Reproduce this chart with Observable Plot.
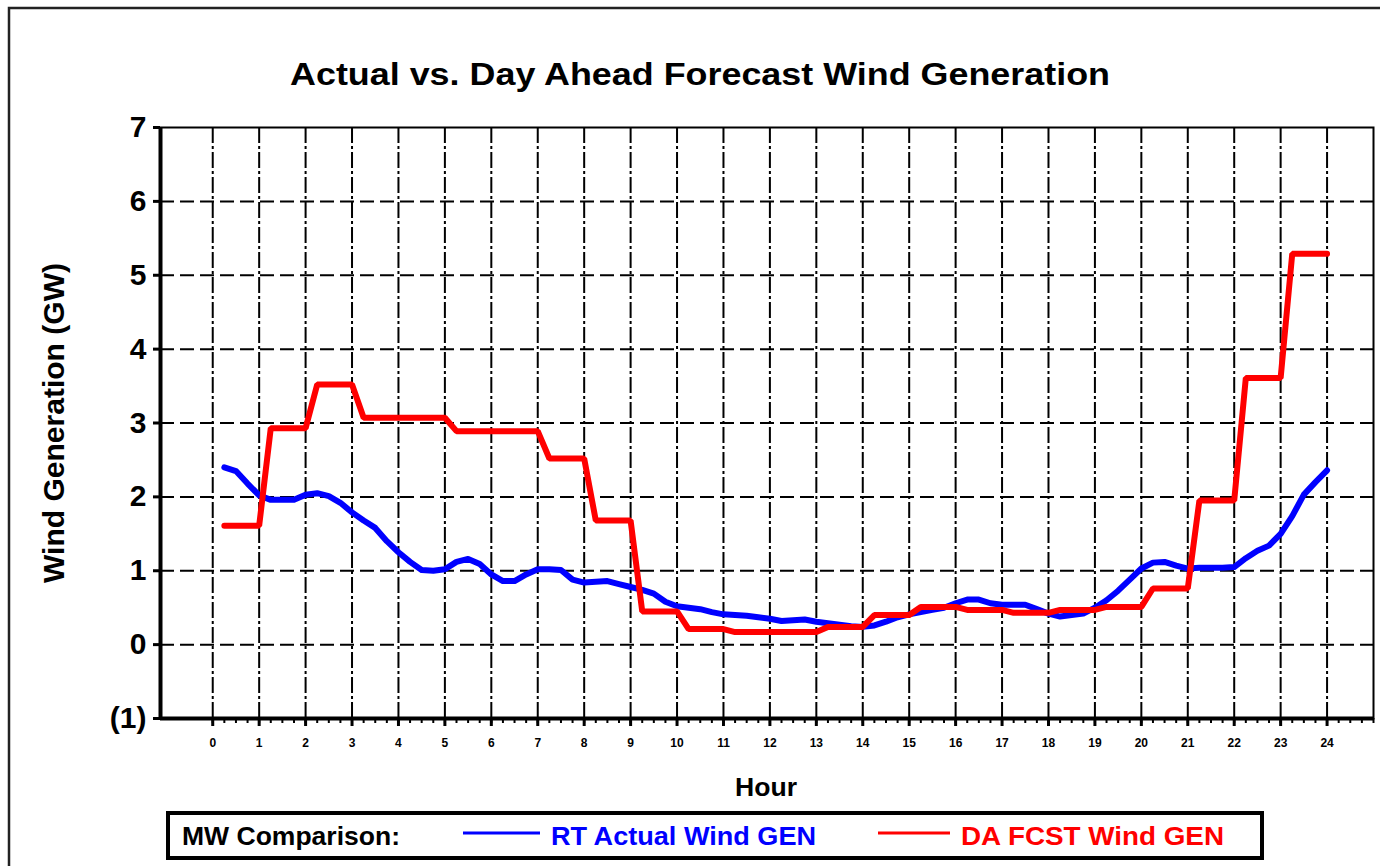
<!DOCTYPE html>
<html>
<head>
<meta charset="utf-8">
<script src="https://cdn.jsdelivr.net/npm/d3@7"></script>
<script src="https://cdn.jsdelivr.net/npm/@observablehq/plot@0.6"></script>
<style>
  html, body { margin: 0; padding: 0; background: #ffffff; }
  #chart svg { display: block; }
</style>
</head>
<body>
<div id="chart"></div>
<script>
// ---------- data ----------
const titleText = "Actual vs. Day Ahead Forecast Wind Generation";
const yLabelText = "Wind Generation (GW)";
const xLabelText = "Hour";
const legendTitle = "MW Comparison:";
const seriesNames = ["RT Actual Wind GEN", "DA FCST Wind GEN"];
const seriesColors = ["#0000ff", "#ff0000"];

const hourTicks = [0,1,2,3,4,5,6,7,8,9,10,11,12,13,14,15,16,17,18,19,20,21,22,23,24];
const yTicks = [-1, 0, 1, 2, 3, 4, 5, 6, 7];
const yTickLabels = ["(1)", "0", "1", "2", "3", "4", "5", "6", "7"];
const yGridValues = [0, 1, 2, 3, 4, 5, 6];

// RT actual wind generation (GW), quarter-hour readings from 00:15 to 24:00
const rtActualGW = [
  2.40, 2.35, 2.18, 2.02,  1.96, 1.96, 1.96, 2.03,  2.05, 2.01, 1.92, 1.79,
  1.68, 1.58, 1.40, 1.25,  1.12, 1.01, 1.00, 1.02,  1.12, 1.16, 1.09, 0.95,
  0.86, 0.86, 0.95, 1.02,  1.02, 1.01, 0.88, 0.84,  0.85, 0.86, 0.82, 0.78,
  0.74, 0.69, 0.58, 0.52,  0.50, 0.48, 0.44, 0.41,  0.40, 0.39, 0.37, 0.35,
  0.32, 0.33, 0.34, 0.31,  0.29, 0.27, 0.25, 0.24,  0.26, 0.31, 0.37, 0.41,
  0.44, 0.47, 0.50, 0.56,  0.61, 0.61, 0.56, 0.54,  0.54, 0.54, 0.48, 0.42,
  0.38, 0.40, 0.42, 0.50,  0.60, 0.73, 0.88, 1.03,  1.11, 1.12, 1.07, 1.03,
  1.04, 1.04, 1.04, 1.05,  1.17, 1.27, 1.34, 1.50,  1.74, 2.03, 2.20, 2.36
];

// DA forecast wind generation (GW), one value per hour ending 1..24
const daFcstGW = [
  1.61, 2.93, 3.52, 3.07, 3.07, 2.89, 2.89, 2.52, 1.68, 0.45, 0.21, 0.17,
  0.17, 0.24, 0.40, 0.51, 0.47, 0.43, 0.47, 0.51, 0.76, 1.95, 3.61, 5.29
];

const quarterTicks = d3.range(0, 25.01, 0.25);
const xDomain = [-1.125, 25];
const yDomain = [-1, 7];

// ---------- tables ----------
const actualData = rtActualGW.map((gw, i) => ({hour: (i + 1) / 4, gw}));
const fcstData = [];
daFcstGW.forEach((gw, h) => {
  [1, 2, 3, 4].forEach(q => fcstData.push({hour: h + q / 4, gw}));
});

// ---------- chart ----------
const W = 1380, H = 866;
const FONT = "'Liberation Sans', Arial, Helvetica, sans-serif";

const chart = Plot.plot({
  width: W,
  height: H,
  marginLeft: 160,
  marginRight: 7,
  marginTop: 127,
  marginBottom: 148,
  style: {fontFamily: FONT, background: "#ffffff", color: "#000000", overflow: "hidden"},
  x: {domain: xDomain},
  y: {domain: yDomain},
  marks: [
    Plot.ruleY(yGridValues, {stroke: "#000", strokeWidth: 2, strokeDasharray: "14,6"}),
    Plot.ruleX(hourTicks, {stroke: "#000", strokeWidth: 2, strokeDasharray: "16,3,3,3"}),
    Plot.line(actualData, {x: "hour", y: "gw", stroke: seriesColors[0], strokeWidth: 6, strokeLinejoin: "round"}),
    Plot.line(fcstData, {x: "hour", y: "gw", stroke: seriesColors[1], strokeWidth: 6, strokeLinejoin: "miter"}),
    Plot.frame({stroke: "#000", strokeWidth: 2}),
    Plot.ruleX([xDomain[0]], {stroke: "#000", strokeWidth: 4}),
    Plot.ruleY([yDomain[0]], {stroke: "#000", strokeWidth: 4}),
    Plot.axisY(yTicks, {
      tickFormat: d => yTickLabels[yTicks.indexOf(d)],
      tickSize: 7, tickPadding: 7, strokeWidth: 3,
      fontSize: 30, fontWeight: "bold", label: null
    }),
    Plot.axisX(quarterTicks, {
      tickFormat: () => "", tickSize: 5, strokeWidth: 2, label: null
    }),
    Plot.axisX(hourTicks, {
      tickFormat: d => String(d),
      tickSize: 8, tickPadding: 12, strokeWidth: 3,
      fontSize: 12, fontWeight: "bold", label: null
    })
  ]
});

document.getElementById("chart").appendChild(chart);

// ---------- annotations (title, axis titles, legend, outer frame) ----------
const svg = d3.select(chart);

svg.append("rect")
  .attr("x", 9).attr("y", 8).attr("width", W + 20).attr("height", H + 20)
  .attr("fill", "none").attr("stroke", "#222").attr("stroke-width", 2.5);

svg.append("text")
  .attr("x", 700).attr("y", 85)
  .attr("text-anchor", "middle")
  .attr("font-family", FONT).attr("font-weight", "bold").attr("font-size", 31)
  .attr("textLength", 820).attr("lengthAdjust", "spacingAndGlyphs")
  .attr("fill", "#000")
  .text(titleText);

svg.append("text")
  .attr("transform", "translate(64,423) rotate(-90)")
  .attr("text-anchor", "middle")
  .attr("font-family", FONT).attr("font-weight", "bold").attr("font-size", 29)
  .attr("textLength", 320).attr("lengthAdjust", "spacingAndGlyphs")
  .attr("fill", "#000")
  .text(yLabelText);

svg.append("text")
  .attr("x", 766).attr("y", 796)
  .attr("text-anchor", "middle")
  .attr("font-family", FONT).attr("font-weight", "bold").attr("font-size", 25)
  .attr("textLength", 62).attr("lengthAdjust", "spacingAndGlyphs")
  .attr("fill", "#000")
  .text(xLabelText);

const lg = svg.append("g").attr("text-anchor", "start");
lg.append("rect")
  .attr("x", 168).attr("y", 813).attr("width", 1094).attr("height", 45)
  .attr("fill", "#fff").attr("stroke", "#000").attr("stroke-width", 4);
lg.append("text")
  .attr("x", 182).attr("y", 845)
  .attr("text-anchor", "start")
  .attr("font-family", FONT).attr("font-weight", "bold").attr("font-size", 25)
  .attr("textLength", 218).attr("lengthAdjust", "spacingAndGlyphs")
  .attr("fill", "#000").text(legendTitle);
const legendItems = [
  {x1: 463, x2: 540, tx: 551, tl: 265},
  {x1: 878, x2: 950, tx: 961, tl: 263}
];
legendItems.forEach((it, i) => {
  lg.append("line")
    .attr("x1", it.x1).attr("x2", it.x2).attr("y1", 833).attr("y2", 833)
    .attr("stroke", seriesColors[i]).attr("stroke-width", 3);
  lg.append("text")
    .attr("x", it.tx).attr("y", 845)
    .attr("text-anchor", "start")
    .attr("font-family", FONT).attr("font-weight", "bold").attr("font-size", 25)
    .attr("textLength", it.tl).attr("lengthAdjust", "spacingAndGlyphs")
    .attr("fill", seriesColors[i]).text(seriesNames[i]);
});
</script>
</body>
</html>
